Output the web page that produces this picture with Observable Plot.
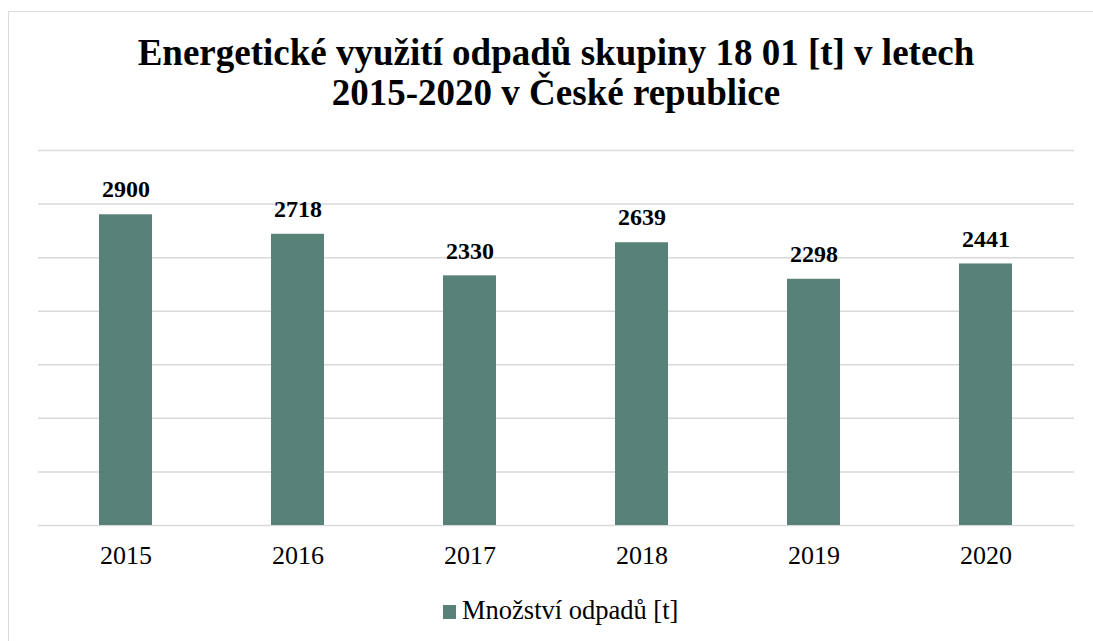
<!DOCTYPE html>
<html>
<head>
<meta charset="utf-8">
<script src="https://cdn.jsdelivr.net/npm/d3@7"></script>
<script src="https://cdn.jsdelivr.net/npm/@observablehq/plot@0.6"></script>
<style>
  html, body { margin: 0; padding: 0; background: #fff; }
  body { width: 1093px; height: 641px; overflow: hidden; position: relative; font-family: "Liberation Serif", "Times New Roman", serif; }
  #frame { position: absolute; left: 8px; top: 11px; width: 1200px; height: 700px; border: 1.5px solid #d9d9d9; box-sizing: border-box; }
  #wrap { position: absolute; left: 0; top: 0; width: 1093px; }
  #title { height: 130px; box-sizing: border-box; padding-top: 33px; padding-left: 19px; text-align: center; font-weight: bold; font-size: 37px; line-height: 40px; color: #000; white-space: nowrap; }
  #chart svg { display: block; }
  #legend { height: 51px; position: relative; }
  #legend .sw { position: absolute; left: 443px; top: 15px; width: 13px; height: 14px; background: #588178; }
  #legend .lb { position: absolute; left: 462px; top: 0px; font-size: 26.5px; line-height: 40px; color: #000; white-space: nowrap; }
</style>
</head>
<body>
<div id="frame"></div>
<div id="wrap">
  <div id="title">Energetické využití odpadů skupiny 18 01 [t] v letech<br>2015-2020 v České republice</div>
  <div id="chart"></div>
  <div id="legend"><div class="sw"></div><div class="lb">Množství odpadů [t]</div></div>
</div>
<script>
const years = ["2015", "2016", "2017", "2018", "2019", "2020"];
const values = [2900, 2718, 2330, 2639, 2298, 2441];
const gridTicks = [0, 500, 1000, 1500, 2000, 2500, 3000, 3500];
const seriesName = "Množství odpadů [t]";

const data = years.map((y, i) => ({year: y, value: values[i]}));
const serif = '"Liberation Serif", "Times New Roman", serif';

const chart = Plot.plot({
  width: 1093,
  height: 460,
  marginTop: 20,
  marginBottom: 65,
  marginLeft: 38,
  marginRight: 19,
  style: {fontFamily: serif, color: "#000", background: "transparent"},
  x: {domain: years, paddingInner: 0.69, paddingOuter: 0.345, label: null},
  y: {domain: [0, 3500], label: null, axis: null},
  marks: [
    Plot.ruleY(gridTicks, {stroke: "#d9d9d9", strokeWidth: 1.5}),
    Plot.barY(data, {x: "year", y: "value", fill: "#588178", title: d => `${seriesName}: ${d.value}`}),
    Plot.text(data, {x: "year", y: "value", text: d => String(d.value), dy: -25, fontSize: 24, fontWeight: "bold", fontFamily: serif, fill: "#000"}),
    Plot.axisX({tickSize: 0, tickPadding: 20, fontSize: 26, fontFamily: serif, label: null, fill: "#000"})
  ]
});
document.getElementById("chart").appendChild(chart);
</script>
</body>
</html>
